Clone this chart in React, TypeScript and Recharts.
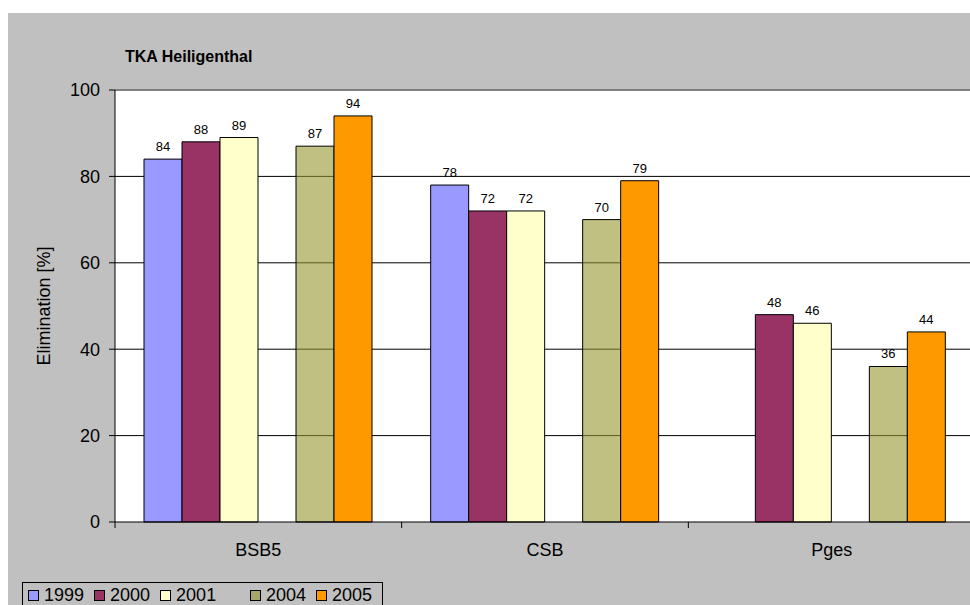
import { BarChart, Bar, XAxis, YAxis, CartesianGrid, ReferenceLine, LabelList, Label } from "recharts";

// Elimination rates per parameter and year
const CATEGORIES = ["BSB5", "CSB", "Pges"];
const V1999 = [84, 78, null];
const V2000 = [88, 72, 48];
const V2001 = [89, 72, 46];
const V_GAP = [null, null, null]; // empty slot between 2001 and 2004
const V2004 = [87, 70, 36];
const V2005 = [94, 79, 44];
const Y_TICKS = [0, 20, 40, 60, 80, 100];

const SERIES = [
  { key: "y1999", name: "1999", values: V1999, fill: "#9999FF", opacity: 1 },
  { key: "y2000", name: "2000", values: V2000, fill: "#993366", opacity: 1 },
  { key: "y2001", name: "2001", values: V2001, fill: "#FFFFCC", opacity: 1 },
  { key: "gap", name: "", values: V_GAP, fill: "none", opacity: 1 },
  { key: "y2004", name: "2004", values: V2004, fill: "#96962F", opacity: 0.6 },
  { key: "y2005", name: "2005", values: V2005, fill: "#FF9900", opacity: 1 },
];

const data = CATEGORIES.map((cat, i) => {
  const row: Record<string, string | number | null> = { cat };
  SERIES.forEach((s) => (row[s.key] = s.values[i]));
  return row;
});

const PLOT_W = 860;
const BAND = PLOT_W / CATEGORIES.length;

function CategoryTick(props: any) {
  const { x, y, payload } = props;
  return (
    <g>
      <line x1={x - BAND / 2} x2={x - BAND / 2} y1={y} y2={y + 6} stroke="#000" />
      <text x={x} y={y + 28} textAnchor="middle" dominantBaseline="central" fontSize={18} fill="#000">
        {payload.value}
      </text>
    </g>
  );
}

function LegendBox() {
  return (
    <div
      style={{
        position: "absolute",
        left: 14,
        top: 569,
        width: 361,
        height: 40,
        border: "1px solid #000",
        display: "flex",
        alignItems: "flex-start",
        paddingLeft: 5,
        paddingTop: 2,
        boxSizing: "border-box",
        fontSize: 18,
        lineHeight: "20px",
      }}
    >
      {SERIES.map((s) =>
        s.name === "" ? (
          <div key={s.key} style={{ width: 24 }} />
        ) : (
          <div key={s.key} style={{ display: "flex", alignItems: "center", marginRight: 10 }}>
            <svg width={11} height={11} style={{ marginRight: 5 }}>
              <rect x={0.5} y={0.5} width={10} height={10} fill={s.fill} fillOpacity={s.opacity} stroke="#000" />
            </svg>
            <span>{s.name}</span>
          </div>
        )
      )}
    </div>
  );
}

export default function App() {
  return (
    <div
      style={{
        position: "fixed",
        left: 8,
        top: 13,
        width: 962,
        height: 592,
        overflow: "hidden",
        background: "#C0C0C0",
        fontFamily: "Arial, 'Liberation Sans', sans-serif",
        color: "#000",
      }}
    >
      <div style={{ position: "absolute", left: 117, top: 35, fontSize: 16, lineHeight: "18px", fontWeight: "bold" }}>
        TKA Heiligenthal
      </div>
      <BarChart
        width={967}
        height={592}
        data={data}
        margin={{ top: 77, right: 0, bottom: 53, left: 47 }}
        barSize={38}
        barGap={0}
      >
        <CartesianGrid vertical={false} horizontalValues={[20, 40, 60, 80]} stroke="#000" fill="#FFFFFF" />
        <ReferenceLine y={100} stroke="#808080" strokeWidth={2} />
        <XAxis
          dataKey="cat"
          height={30}
          interval={0}
          axisLine={{ stroke: "#000" }}
          tickLine={false}
          tickSize={0}
          tickMargin={0}
          tick={<CategoryTick />}
        />
        <YAxis
          width={60}
          domain={[0, 100]}
          ticks={Y_TICKS}
          interval={0}
          tickSize={6}
          tickMargin={9}
          axisLine={{ stroke: "#000" }}
          tickLine={{ stroke: "#000" }}
          tick={{ fontSize: 18, fill: "#000" }}
        >
          <Label
            content={() => (
              <text
                x={36}
                y={293}
                transform="rotate(-90 36 293)"
                textAnchor="middle"
                dominantBaseline="central"
                fontSize={18}
                fill="#000"
              >
                Elimination [%]
              </text>
            )}
          />
        </YAxis>
        {SERIES.map((s) => (
          <Bar
            key={s.key}
            dataKey={s.key}
            name={s.name}
            fill={s.fill}
            fillOpacity={s.opacity}
            stroke="#000"
            strokeWidth={1}
            isAnimationActive={false}
          >
            <LabelList dataKey={s.key} position="top" offset={8} fontSize={13} fill="#000" />
          </Bar>
        ))}
      </BarChart>
      <LegendBox />
    </div>
  );
}
